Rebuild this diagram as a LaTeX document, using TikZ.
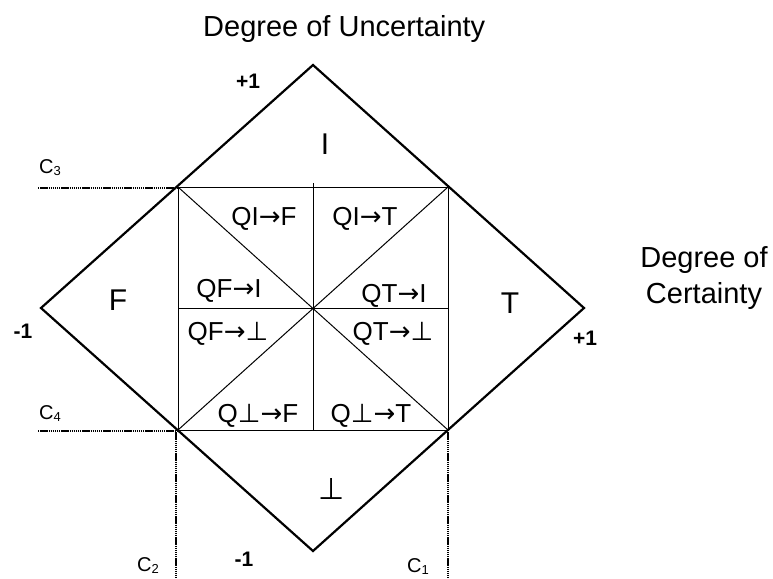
\documentclass[tikz,border=0pt]{standalone}
\usepackage{fontspec}
\setmainfont{Liberation Sans}
\newfontfamily\glyphfont{DejaVu Sans}
\usetikzlibrary{positioning}
\newcommand{\arr}{{\glyphfont →}}
\newcommand{\bt}{{\glyphfont ⊥}}
\newcommand{\cidx}[1]{\raisebox{-2.5pt}{\fontsize{13}{15}\selectfont #1}}
\tikzstyle{frame} = [line width=2.2pt, line join=miter]
\tikzstyle{grid} = [line width=1pt]
\tikzstyle{limit} = [line width=2.2pt, dash pattern=on 1.4pt off 0.7pt]
\tikzstyle{region} = [inner sep=0pt, anchor=base, font=\fontsize{30}{36}\selectfont]
\tikzstyle{quad} = [inner sep=0pt, anchor=base, font=\fontsize{26}{31}\selectfont]
\tikzstyle{tickval} = [inner sep=0pt, anchor=base, font=\fontsize{21}{25}\selectfont\bfseries]
\tikzstyle{axis} = [inner sep=0pt, anchor=base, font=\fontsize{29}{35}\selectfont]
\tikzstyle{cval} = [inner sep=0pt, anchor=base west, font=\fontsize{20}{24}\selectfont]

\begin{document}
\begin{tikzpicture}[x=1pt, y=-1pt]
        \useasboundingbox (0,0) rectangle (773,578);

        % --- Vertices of the lattice ---
        \coordinate (top) at (313,65);
        \coordinate (left) at (41,308);
        \coordinate (right) at (584,308);
        \coordinate (bot) at (313,551);
        \coordinate (ctr) at (313,308);
        \coordinate (tl) at (178,187);
        \coordinate (tr) at (448,187);
        \coordinate (bl) at (178,430);
        \coordinate (br) at (448,430);
        \coordinate (mtop) at (313,183);

        % --- Free ends of the limit lines ---
        \coordinate (c3end) at (38,188);
        \coordinate (c4end) at (38,431);
        \coordinate (c2end) at (176,578);
        \coordinate (c1end) at (448,578);

        % --- Outer diamond ---
        \draw [frame] (top) -- (right) -- (bot) -- (left) -- cycle;

        % --- Inner square and its divisions ---
        \draw [grid] (tl) -- (tr) -- (br) -- (bl) -- cycle;
        \draw [grid] (tl) -- (br);
        \draw [grid] (tr) -- (bl);
        \draw [grid] (mtop) -- (ctr |- bl);
        \draw [grid] (ctr -| tl) -- (ctr -| tr);

        % --- Limit lines (C1 ... C4) ---
        \draw [limit] (c3end) -- (c3end -| tl);
        \draw [limit] (c4end) -- (c4end -| bl);
        \draw [limit] (bl -| c2end) -- (c2end);
        \draw [limit] (br) -- (c1end);

        % --- Axis names ---
        \node (unc) [axis, anchor=base west] at (203,37) {Degree of Uncertainty};
        \node (cert1) [axis] at (704,267) {Degree of};
        \node (cert2) [axis] at (704,303) {Certainty};

        % --- Extreme values ---
        \node (ptop) [tickval] at (248,88) {+1};
        \node (mleft) [tickval] at (23,338) {-1};
        \node (pright) [tickval] at (585,345) {+1};
        \node (mbot) [tickval] at (244,566) {-1};

        % --- Limit names ---
        \node (lc3) [cval] at (39,173) {C\cidx{3}};
        \node (lc4) [cval] at (39,419) {C\cidx{4}};
        \node (lc2) [cval] at (137,571) {C\cidx{2}};
        \node (lc1) [cval] at (407,572) {C\cidx{1}};

        % --- Extreme states ---
        \node (sI) [region] at (325,154) {I};
        \node (sF) [region] at (118,310) {F};
        \node (sT) [region] at (510,313) {T};
        \node (sB) [region] at (332,499) {\bt};

        % --- Quasi states ---
        \node (qif) [quad] at (264,225) {QI\arr F};
        \node (qit) [quad] at (365,225) {QI\arr T};
        \node (qfi) [quad] at (229,297) {QF\arr I};
        \node (qti) [quad] at (394,302) {QT\arr I};
        \node (qfb) [quad] at (228,340) {QF\arr\bt};
        \node (qtb) [quad] at (393,340) {QT\arr\bt};
        \node (qbf) [quad] at (258,422) {Q\bt\arr F};
        \node (qbt) [quad] at (371,422) {Q\bt\arr T};

    \end{tikzpicture}
\end{document}
